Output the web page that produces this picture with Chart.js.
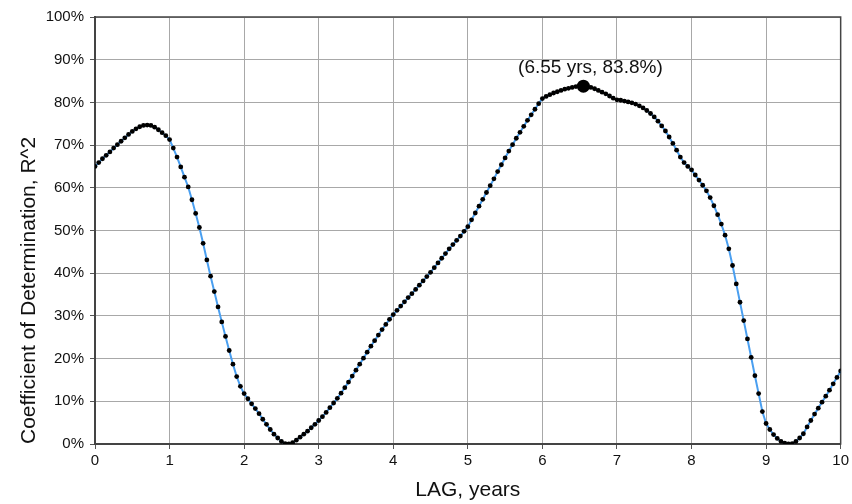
<!DOCTYPE html>
<html>
<head>
<meta charset="utf-8">
<script src="https://cdn.jsdelivr.net/npm/chart.js@4/dist/chart.umd.min.js"></script>
<style>
  html, body { margin: 0; padding: 0; background: #fff; }
  #wrap { width: 852px; height: 504px; }
</style>
</head>
<body>
<div id="wrap"><canvas id="myChart" width="852" height="504"></canvas></div>
<script>
// lag in years, one row per year
const lags = [
  0.00, 0.05, 0.10, 0.15, 0.20, 0.25, 0.30, 0.35, 0.40, 0.45, 0.50, 0.55, 0.60, 0.65, 0.70, 0.75, 0.80, 0.85, 0.90, 0.95,
  1.00, 1.05, 1.10, 1.15, 1.20, 1.25, 1.30, 1.35, 1.40, 1.45, 1.50, 1.55, 1.60, 1.65, 1.70, 1.75, 1.80, 1.85, 1.90, 1.95,
  2.00, 2.05, 2.10, 2.15, 2.20, 2.25, 2.30, 2.35, 2.40, 2.45, 2.50, 2.55, 2.60, 2.65, 2.70, 2.75, 2.80, 2.85, 2.90, 2.95,
  3.00, 3.05, 3.10, 3.15, 3.20, 3.25, 3.30, 3.35, 3.40, 3.45, 3.50, 3.55, 3.60, 3.65, 3.70, 3.75, 3.80, 3.85, 3.90, 3.95,
  4.00, 4.05, 4.10, 4.15, 4.20, 4.25, 4.30, 4.35, 4.40, 4.45, 4.50, 4.55, 4.60, 4.65, 4.70, 4.75, 4.80, 4.85, 4.90, 4.95,
  5.00, 5.05, 5.10, 5.15, 5.20, 5.25, 5.30, 5.35, 5.40, 5.45, 5.50, 5.55, 5.60, 5.65, 5.70, 5.75, 5.80, 5.85, 5.90, 5.95,
  6.00, 6.05, 6.10, 6.15, 6.20, 6.25, 6.30, 6.35, 6.40, 6.45, 6.50, 6.55, 6.60, 6.65, 6.70, 6.75, 6.80, 6.85, 6.90, 6.95,
  7.00, 7.05, 7.10, 7.15, 7.20, 7.25, 7.30, 7.35, 7.40, 7.45, 7.50, 7.55, 7.60, 7.65, 7.70, 7.75, 7.80, 7.85, 7.90, 7.95,
  8.00, 8.05, 8.10, 8.15, 8.20, 8.25, 8.30, 8.35, 8.40, 8.45, 8.50, 8.55, 8.60, 8.65, 8.70, 8.75, 8.80, 8.85, 8.90, 8.95,
  9.00, 9.05, 9.10, 9.15, 9.20, 9.25, 9.30, 9.35, 9.40, 9.45, 9.50, 9.55, 9.60, 9.65, 9.70, 9.75, 9.80, 9.85, 9.90, 9.95,
  10.00
]

// R^2 in %, same rows as lags
const r2 = [
  65.0, 65.9, 66.8, 67.6, 68.4, 69.3, 70.1, 70.9, 71.7, 72.5, 73.2, 73.8, 74.3, 74.6, 74.7, 74.6, 74.2, 73.6, 72.9, 72.2,
  71.3, 69.3, 67.2, 64.9, 62.5, 60.2, 57.2, 54.0, 50.7, 47.0, 43.1, 39.3, 35.7, 32.1, 28.6, 25.2, 21.9, 18.7, 15.8, 13.5,
  11.8, 10.6, 9.4, 8.3, 7.1, 5.8, 4.6, 3.4, 2.3, 1.4, 0.6, 0.1, 0.0, 0.3, 0.9, 1.6, 2.3, 3.0, 3.8, 4.6,
  5.5, 6.4, 7.4, 8.5, 9.6, 10.7, 11.9, 13.2, 14.5, 15.9, 17.3, 18.7, 20.1, 21.5, 22.9, 24.2, 25.5, 26.8, 28.0, 29.2,
  30.3, 31.3, 32.3, 33.3, 34.3, 35.2, 36.2, 37.2, 38.2, 39.2, 40.2, 41.3, 42.4, 43.5, 44.6, 45.7, 46.7, 47.7, 48.7, 49.8,
  50.9, 52.5, 54.1, 55.7, 57.3, 58.9, 60.5, 62.1, 63.8, 65.4, 67.0, 68.6, 70.1, 71.6, 73.0, 74.4, 75.8, 77.1, 78.4, 79.7,
  80.9, 81.4, 81.8, 82.2, 82.5, 82.8, 83.1, 83.3, 83.5, 83.7, 83.8, 83.8, 83.7, 83.5, 83.2, 82.8, 82.4, 82.0, 81.5, 81.0,
  80.6, 80.5, 80.3, 80.1, 79.9, 79.6, 79.2, 78.7, 78.1, 77.4, 76.6, 75.6, 74.5, 73.3, 71.9, 70.4, 68.8, 67.2, 65.9, 65.0,
  64.2, 63.0, 61.8, 60.6, 59.3, 57.7, 55.8, 53.7, 51.5, 48.9, 45.7, 41.8, 37.5, 33.2, 28.9, 24.6, 20.3, 16.0, 11.8, 7.6,
  4.8, 3.4, 2.2, 1.3, 0.6, 0.2, 0.0, 0.1, 0.6, 1.4, 2.4, 4.0, 5.5, 7.0, 8.4, 9.8, 11.2, 12.6, 14.1, 15.6,
  17.1
]

// highlighted maximum
const peakLag = [6.55]
const peakR2 = [83.8]
const peakLabel = '(6.55 yrs, 83.8%)'

const xTicks = [0, 1, 2, 3, 4, 5, 6, 7, 8, 9, 10]
const yTicks = [0, 10, 20, 30, 40, 50, 60, 70, 80, 90, 100]

const fontFamily = '"Liberation Sans", Arial, Helvetica, sans-serif'

// frame around the plot area (top and right edges too)
const framePlugin = {
    id: 'frame',
    beforeDatasetsDraw(chart) {
        const { ctx, chartArea } = chart
        ctx.save()
        ctx.strokeStyle = '#444'
        ctx.lineWidth = 1.5
        ctx.strokeRect(chartArea.left, chartArea.top, chartArea.right - chartArea.left, chartArea.bottom - chartArea.top)
        ctx.restore()
    }
}

// text over the highlighted point
const peakLabelPlugin = {
    id: 'peakLabel',
    afterDatasetsDraw(chart) {
        const { ctx, scales } = chart
        const px = scales.x.getPixelForValue(peakLag[0])
        const py = scales.y.getPixelForValue(peakR2[0])
        ctx.save()
        ctx.font = '19px ' + fontFamily
        ctx.fillStyle = '#111'
        ctx.textAlign = 'center'
        ctx.textBaseline = 'middle'
        ctx.fillText(peakLabel, px + 7, py - 18)
        ctx.restore()
    }
}

const ctx = document.getElementById('myChart')
new Chart(ctx, {
    type: 'line',
    data: {
        datasets: [
            {
                label: 'peak',
                data: peakLag.map((x, i) => ({ x: x, y: peakR2[i] })),
                showLine: false,
                pointRadius: 6.5,
                pointBackgroundColor: '#000',
                pointBorderWidth: 0,
                order: 0
            },
            {
                label: 'R^2',
                data: lags.map((x, i) => ({ x: x, y: r2[i] })),
                borderColor: '#4a9ff0',
                borderWidth: 2,
                tension: 0,
                pointRadius: 2.4,
                pointBackgroundColor: '#000',
                pointBorderWidth: 0,
                order: 1
            }
        ]
    },
    options: {
        responsive: false,
        animation: false,
        events: [],
        layout: { padding: { left: 0, right: 10, top: 17, bottom: 0 } },
        plugins: {
            legend: { display: false },
            tooltip: { enabled: false }
        },
        scales: {
            x: {
                type: 'linear',
                min: 0,
                max: 10,
                afterFit: (scale) => { scale.height = 60 },
                afterBuildTicks: (scale) => { scale.ticks = xTicks.map(v => ({ value: v })) },
                ticks: {
                    color: '#111',
                    font: { family: fontFamily, size: 15 },
                    padding: 3,
                    maxRotation: 0
                },
                grid: { color: '#a8a8a8', lineWidth: 1, tickLength: 5, tickColor: '#555' },
                border: { color: '#444', width: 2 },
                title: {
                    display: true,
                    text: 'LAG, years',
                    color: '#111',
                    font: { family: fontFamily, size: 21 },
                    padding: { top: 0, bottom: 1 }
                }
            },
            y: {
                type: 'linear',
                min: 0,
                max: 100,
                afterFit: (scale) => { scale.width = 95 },
                afterBuildTicks: (scale) => { scale.ticks = yTicks.map(v => ({ value: v })) },
                ticks: {
                    color: '#111',
                    font: { family: fontFamily, size: 15 },
                    padding: 6,
                    callback: (v) => v + '%'
                },
                grid: { color: '#a8a8a8', lineWidth: 1, tickLength: 5, tickColor: '#555' },
                border: { color: '#444', width: 2 },
                title: {
                    display: true,
                    text: 'Coefficient of Determination, R^2',
                    align: 'start',
                    color: '#111',
                    font: { family: fontFamily, size: 21 },
                    padding: { top: 17, bottom: 0 }
                }
            }
        }
    },
    plugins: [framePlugin, peakLabelPlugin]
})
</script>
</body>
</html>
